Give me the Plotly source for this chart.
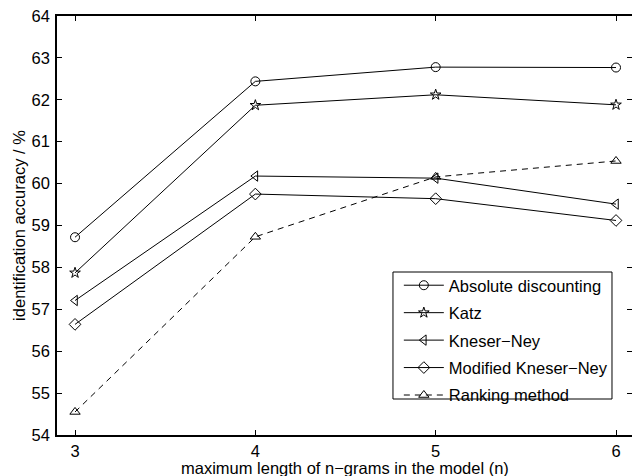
import plotly.graph_objects as go

n_values = [3, 4, 5, 6]
absolute_discounting = [58.72, 62.44, 62.78, 62.77]
katz = [57.87, 61.87, 62.12, 61.88]
kneser_ney = [57.21, 60.18, 60.13, 59.51]
modified_kneser_ney = [56.64, 59.75, 59.64, 59.12]
ranking_method = [54.55, 58.73, 60.16, 60.54]

series_names = ["Absolute discounting", "Katz", "Kneser\u2212Ney",
                "Modified Kneser\u2212Ney", "Ranking method"]
series_values = [absolute_discounting, katz, kneser_ney,
                 modified_kneser_ney, ranking_method]
symbols = ["circle-open", "star-open", "triangle-left-open",
           "diamond-open", "triangle-up-open"]
dashes = ["solid", "solid", "solid", "solid", "6px,5px"]
sizes = [9, 8, 9, 9, 9]

y_ticks = list(range(54, 65))

FONT = "Liberation Sans, Arial, sans-serif"
FS = 16.5

fig = go.Figure()
for i, (name, vals) in enumerate(zip(series_names, series_values)):
    fig.add_trace(go.Scatter(
        x=n_values, y=vals, name=name, mode="lines+markers",
        line=dict(color="black", width=1, dash=dashes[i]),
        marker=dict(symbol=symbols[i], size=sizes[i], color="black",
                    line=dict(width=1, color="black")),
        legendgroup=f"g{i}",
    ))

axis_common = dict(
    showline=True, linecolor="black", linewidth=1.5, mirror="ticks",
    ticks="inside", ticklen=5, tickwidth=1, tickcolor="black",
    showgrid=False, zeroline=False,
    tickfont=dict(family=FONT, size=FS, color="black"),
)

fig.update_layout(
    width=632, height=476,
    margin=dict(l=57, r=0, t=16, b=41),
    paper_bgcolor="white", plot_bgcolor="white",
    font=dict(family=FONT, size=FS, color="black"),
    xaxis=dict(range=[2.9, 6.0887], tickvals=n_values,
               ticklabelstandoff=0,
               automargin=False, **axis_common),
    yaxis=dict(range=[54, 64], tickvals=y_ticks,
               ticklabelstandoff=2,
               title=dict(text="identification accuracy / %",
                          font=dict(size=FS), standoff=2),
               automargin=False, **axis_common),
    legend=dict(x=0.5945, y=0.3986, xanchor="left", yanchor="top",
                borderwidth=0, bgcolor="rgba(0,0,0,0)",
                font=dict(family=FONT, size=FS, color="black"),
                tracegroupgap=3, itemwidth=40),
    showlegend=True,
    shapes=[dict(type="rect", xref="paper", yref="paper",
                 x0=0.5843, x1=0.9652, y0=0.0859, y1=0.389,
                 line=dict(color="black", width=1), fillcolor="white",
                 layer="above")],
    annotations=[dict(
        text="maximum length of n\u2212grams in the model (n)",
        xref="paper", yref="paper", x=0.5, y=0,
        xanchor="center", yanchor="middle", yshift=-33,
        showarrow=False, font=dict(family=FONT, size=FS, color="black"),
    )],
)

fig.write_html(
    "out.html",
    config={"displayModeBar": False},
    post_script="document.body.style.margin='0px';document.body.style.overflow='hidden';",
)
